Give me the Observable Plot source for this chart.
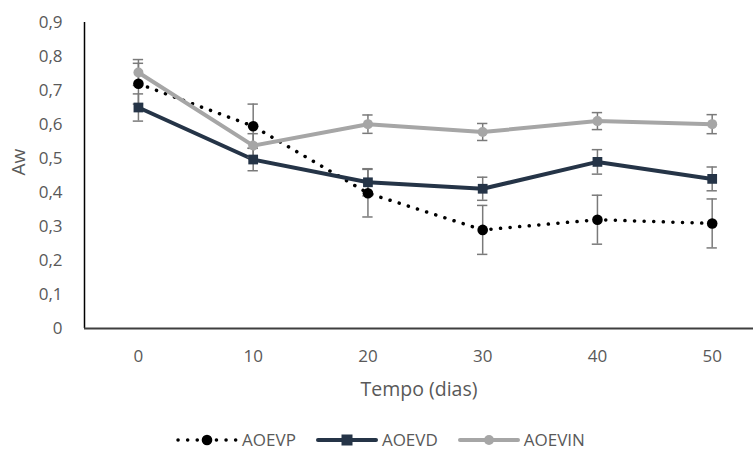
<!DOCTYPE html>
<html>
<head>
<meta charset="utf-8">
<script src="https://cdn.jsdelivr.net/npm/d3@7"></script>
<script src="https://cdn.jsdelivr.net/npm/@observablehq/plot@0.6"></script>
<style>
  html, body { margin: 0; padding: 0; background: #fff; }
  #chart { width: 753px; height: 415px; }
  .legend { display: flex; justify-content: center; align-items: center; height: 41px; padding-left: 8px; padding-top: 8px; box-sizing: border-box; width: 753px;
    font-family: "Open Sans", sans-serif; font-size: 17px; color: #595959; }
  .legend .item { display: flex; align-items: center; margin: 0 10px; }
  .legend svg { margin-right: 4px; }
</style>
</head>
<body>
<div id="chart"></div>
<script>
const days = [0, 10, 20, 30, 40, 50];
const seriesNames = ["AOEVP", "AOEVD", "AOEVIN"];
const aoevp = [0.72, 0.595, 0.398, 0.29, 0.32, 0.309];
const aoevpErr = [0.06, 0.065, 0.07, 0.072, 0.072, 0.072];
const aoevd = [0.65, 0.497, 0.43, 0.411, 0.49, 0.44];
const aoevdErr = [0.04, 0.033, 0.04, 0.034, 0.036, 0.035];
const aoevin = [0.753, 0.538, 0.601, 0.578, 0.61, 0.601];
const aoevinErr = [0.038, 0.035, 0.027, 0.025, 0.025, 0.028];
const yTicks = [0, 0.1, 0.2, 0.3, 0.4, 0.5, 0.6, 0.7, 0.8, 0.9];
const xLabel = "Tempo (dias)";
const yLabel = "Aw";

const styles = {
  AOEVP: { color: "#000000", width: 3.5, dash: "0.1,9.5", symbol: "circle", r: 5.3 },
  AOEVD: { color: "#253447", width: 4, dash: null, symbol: "square", r: 5.5 },
  AOEVIN: { color: "#a6a6a6", width: 4, dash: null, symbol: "circle", r: 5 }
};

const vals = { AOEVP: aoevp, AOEVD: aoevd, AOEVIN: aoevin };
const errs = { AOEVP: aoevpErr, AOEVD: aoevdErr, AOEVIN: aoevinErr };
const rows = {};
for (const s of seriesNames) {
  rows[s] = days.map((d, i) => ({ series: s, x: d, y: vals[s][i], e: errs[s][i] }));
}
const all = seriesNames.flatMap(s => rows[s]);

const xDomain = [-4.7, 53.6];
const capHalf = 0.45;
const font = "Open Sans, sans-serif";
const fmt = v => v === 0 ? "0" : d3.format(".1f")(v).replace(".", ",");

const marks = [];
for (const s of seriesNames) {
  const st = styles[s];
  marks.push(Plot.line(rows[s], { x: "x", y: "y", stroke: st.color, strokeWidth: st.width,
    strokeDasharray: st.dash, strokeLinecap: "round", strokeLinejoin: "round" }));
}
marks.push(Plot.ruleX(all, { x: "x", y1: d => d.y - d.e, y2: d => d.y + d.e, stroke: "#7a7a7a", strokeWidth: 1.5 }));
marks.push(Plot.ruleY(all, { y: d => d.y - d.e, x1: d => d.x - capHalf, x2: d => d.x + capHalf, stroke: "#7a7a7a", strokeWidth: 1.5 }));
marks.push(Plot.ruleY(all, { y: d => d.y + d.e, x1: d => d.x - capHalf, x2: d => d.x + capHalf, stroke: "#7a7a7a", strokeWidth: 1.5 }));
for (const s of seriesNames) {
  const st = styles[s];
  marks.push(Plot.dot(rows[s], { x: "x", y: "y", symbol: st.symbol, r: st.r, fill: st.color, stroke: "none" }));
}
marks.push(Plot.ruleX([xDomain[0]], { stroke: "#000", strokeWidth: 1.5 }));
marks.push(Plot.ruleY([0], { stroke: "#3f3f3f", strokeWidth: 2.2 }));
marks.push(Plot.axisY({ ticks: yTicks, tickFormat: fmt, tickSize: 0, tickPadding: 22, label: null,
  fontSize: 17, fill: "#595959" }));
marks.push(Plot.axisX({ ticks: days, tickFormat: d => String(d), tickSize: 0, tickPadding: 21, label: null,
  fontSize: 17, fill: "#595959" }));
marks.push(Plot.text([xLabel], { text: d => d, frameAnchor: "bottom", dy: 67, fontSize: 19.5, fill: "#595959" }));
marks.push(Plot.text([yLabel], { text: d => d, frameAnchor: "left", dx: -66, rotate: -90, fontSize: 19, fill: "#595959" }));

const chart = Plot.plot({
  width: 753,
  height: 415,
  marginTop: 22,
  marginBottom: 87,
  marginLeft: 84,
  marginRight: 0,
  style: { fontFamily: font, background: "#fff", overflow: "visible" },
  x: { domain: xDomain, axis: null },
  y: { domain: [0, 0.9], axis: null },
  marks
});
document.getElementById("chart").appendChild(chart);

const legend = document.createElement("div");
legend.className = "legend";
for (const s of seriesNames) {
  const st = styles[s];
  const item = document.createElement("div");
  item.className = "item";
  const w = 62, h = 16;
  const sym = st.symbol === "square"
    ? `<rect x="${w/2 - st.r}" y="${h/2 - st.r}" width="${st.r*2}" height="${st.r*2}" fill="${st.color}"/>`
    : `<circle cx="${w/2}" cy="${h/2}" r="${st.r}" fill="${st.color}"/>`;
  item.innerHTML = `<svg width="${w}" height="${h}"><line x1="2" x2="${w-2}" y1="${h/2}" y2="${h/2}" stroke="${st.color}" stroke-width="${st.width}" stroke-linecap="round" ${st.dash ? `stroke-dasharray="${st.dash}"` : ""}/>${sym}</svg><span>${s}</span>`;
  legend.appendChild(item);
}
document.body.appendChild(legend);
</script>
</body>
</html>
